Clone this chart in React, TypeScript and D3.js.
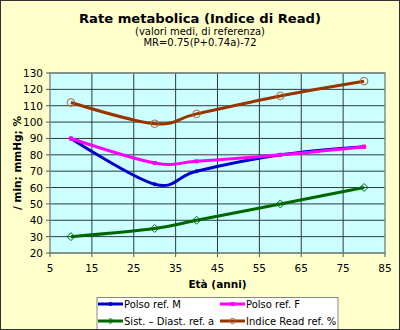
import React from "react";
import * as d3 from "d3";

const ages = [10, 30, 40, 60, 80];
const polsoM = [90, 62, 70, 80, 85];
const polsoF = [90, 75, 76, 80, 85];
const sistDiast = [30, 35, 40, 50, 60];
const indiceRead = [112, 99, 105, 116, 125];
const xTicks = [5, 15, 25, 35, 45, 55, 65, 75, 85];
const yTicks = [20, 30, 40, 50, 60, 70, 80, 90, 100, 110, 120, 130];

const series = [
  { name: "Polso ref. M", values: polsoM, color: "#0000CC", marker: "dot" },
  { name: "Polso ref. F", values: polsoF, color: "#FF00FF", marker: "square" },
  { name: "Sist. \u2013 Diast. ref. a", values: sistDiast, color: "#006600", marker: "diamond" },
  { name: "Indice Read ref. %", values: indiceRead, color: "#993300", marker: "circle" },
];

const W = 400, H = 330;
const L = 50, R = 385, T = 73, B = 253;
const font = "DejaVu Sans, Verdana, sans-serif";

function Marker({ type, x, y, color, small }: { type: string; x: number; y: number; color: string; small?: boolean }) {
  const k = small ? 0.7 : 1;
  if (type === "dot") return <circle cx={x} cy={y} r={2} fill={color} />;
  if (type === "square") return <rect x={x - 2} y={y - 2} width={4} height={4} fill={color} />;
  if (type === "diamond")
    return (
      <path
        d={`M${x},${y - 4 * k}L${x + 4 * k},${y}L${x},${y + 4 * k}L${x - 4 * k},${y}Z`}
        fill="none"
        stroke={color}
        strokeWidth={1}
      />
    );
  return <circle cx={x} cy={y} r={3.8 * k} fill="none" stroke="#B4623C" strokeWidth={1} />;
}

export default function App() {
  const x = d3.scaleLinear().domain([5, 85]).range([L, R]);
  const y = d3.scaleLinear().domain([20, 130]).range([B, T]);
  const line = d3
    .line<number>()
    .x((_, i) => x(ages[i]))
    .y((d) => y(d))
    .curve(d3.curveCatmullRom.alpha(0));

  const legendItems = [
    { s: series[0], lx: 98, ly: 304 },
    { s: series[1], lx: 220, ly: 304 },
    { s: series[2], lx: 98, ly: 321 },
    { s: series[3], lx: 220, ly: 321 },
  ];

  return (
    <svg
      width={W}
      height={H}
      style={{ position: "absolute", left: 0, top: 0, display: "block" }}
      fontFamily={font}
    >
      <rect x={0} y={0} width={W} height={H} fill="#FFFFCC" />
      <text x={200} y={23} textAnchor="middle" fontSize={12.5} fontWeight="bold" fill="#000" textLength={242} lengthAdjust="spacingAndGlyphs">
        Rate metabolica (Indice di Read)
      </text>
      <text x={200} y={35} textAnchor="middle" fontSize={10} fill="#000">
        (valori medi, di referenza)
      </text>
      <text x={200} y={46} textAnchor="middle" fontSize={10} fill="#000">
        MR=0.75(P+0.74a)-72
      </text>

      <rect x={L} y={T} width={R - L} height={B - T} fill="#CCFFFF" />
      {yTicks.map((t) => (
        <line key={"gy" + t} x1={L} x2={R} y1={y(t)} y2={y(t)} stroke="#2b3b3b" strokeWidth={1} />
      ))}
      {xTicks.slice(1, -1).map((t) => (
        <line key={"gx" + t} x1={x(t)} x2={x(t)} y1={T} y2={B} stroke="#2b3b3b" strokeWidth={1} />
      ))}
      <rect x={L} y={T} width={R - L} height={B - T} fill="none" stroke="#7f8f8f" strokeWidth={1.5} />
      {yTicks.map((t) => (
        <line key={"ty" + t} x1={L - 4} x2={L} y1={y(t)} y2={y(t)} stroke="#555" />
      ))}
      {xTicks.map((t) => (
        <line key={"tx" + t} x1={x(t)} x2={x(t)} y1={B} y2={B + 4} stroke="#555" />
      ))}
      {yTicks.map((t) => (
        <text key={"ly" + t} x={43} y={y(t) + 4} textAnchor="end" fontSize={10.5} fill="#000">
          {t}
        </text>
      ))}
      {xTicks.map((t) => (
        <text key={"lx" + t} x={x(t)} y={272} textAnchor="middle" fontSize={10.5} fill="#000">
          {t}
        </text>
      ))}
      <text x={(L + R) / 2} y={288} textAnchor="middle" fontSize={10.5} fontWeight="bold" fill="#000">
        Età (anni)
      </text>
      <text
        transform={`translate(21,163) rotate(-90)`}
        textAnchor="middle"
        fontSize={10.5}
        fontWeight="bold"
        fill="#000"
      >
        / min; mmHg; %
      </text>

      {series.map((s) => (
        <g key={s.name}>
          <path d={line(s.values) || ""} fill="none" stroke={s.color} strokeWidth={3} />
          {s.values.map((v, i) => (
            <Marker key={i} type={s.marker} x={x(ages[i])} y={y(v)} color={s.color} />
          ))}
        </g>
      ))}

      <rect x={97} y={297.5} width={241} height={36} fill="#FFFFFF" stroke="#888" strokeWidth={1} />
      <rect x={0.5} y={0.5} width={W - 1} height={H - 1} fill="none" stroke="#333" strokeWidth={1} />
      {legendItems.map(({ s, lx, ly }) => (
        <g key={"lg" + s.name}>
          <line x1={lx} x2={lx + 25} y1={ly} y2={ly} stroke={s.color} strokeWidth={3} />
          <Marker type={s.marker} x={lx + 12.5} y={ly} color={s.color} small />
          <text x={lx + 26} y={ly + 4} fontSize={10} fill="#000">
            {s.name}
          </text>
        </g>
      ))}
    </svg>
  );
}
